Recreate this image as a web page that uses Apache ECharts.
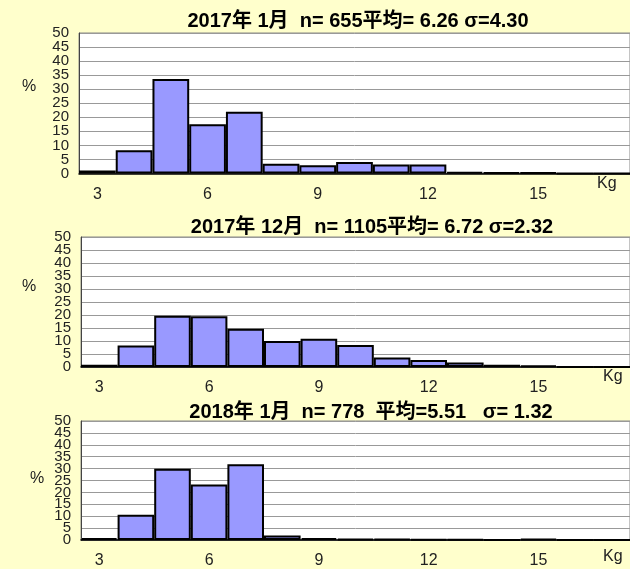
<!DOCTYPE html>
<html>
<head>
<meta charset="utf-8">
<script src="https://cdn.jsdelivr.net/npm/echarts@6/dist/echarts.min.js"></script>
<style>
html,body{margin:0;padding:0;background:#FFFFCC;}
#chart{width:630px;height:569px;}
</style>
</head>
<body>
<div id="chart"></div>
<script>
// Categories (Kg bins)
var categories = ['3','4','5','6','7','8','9','10','11','12','13','14','15','16','17'];
var tickLabels = ['3','6','9','12','15'];
var yTicks = [0,5,10,15,20,25,30,35,40,45,50];

// Series values (%)
var jan2017 = [1.1, 8.3, 33.6, 17.5, 22.0, 3.5, 2.9, 4.1, 3.2, 3.2, 0.5, 0.3, 0.3, 0, 0];
var dec2017 = [0.9, 8.3, 19.7, 19.5, 14.7, 10.0, 10.9, 8.5, 3.7, 2.7, 1.7, 0.9, 0.6, 0, 0];
var jan2018 = [0.8, 10.6, 29.9, 23.3, 31.8, 1.9, 0.8, 0.5, 0.4, 0.3, 0.3, 0.1, 0.5, 0, 0];

var titles = [
  '2017年 1月  n= 655平均= 6.26 σ=4.30',
  '2017年 12月  n= 1105平均= 6.72 σ=2.32',
  '2018年 1月  n= 778  平均=5.51   σ= 1.32'
];
var seriesData = [jan2017, dec2017, jan2018];

var FONT = "'Liberation Sans', Arial, 'Noto Sans CJK JP', sans-serif";
var grids = [
  {left: 79, top: 33, height: 140.5, right: -10},
  {left: 81, top: 237, height: 130, right: -12},
  {left: 81, top: 421, height: 121, right: -12}
];
var titlePos = [{x: 358, y: 11}, {x: 372, y: 217}, {x: 371, y: 402}];
var pctPos = [{x: 30, y: 88}, {x: 30, y: 288}, {x: 38, y: 480}];
var kgPos = [{x: 607, y: 185}, {x: 613, y: 378}, {x: 613, y: 558}];

// Two label layers per panel (even and odd ticks) so tightly packed labels all show
function makeY(i, parity) {
  var shown = yTicks.filter(function (v, k) { return k % 2 === parity; });
  return {
    type: 'value', gridIndex: i, position: 'left', offset: 0,
    min: yTicks[0], max: yTicks[yTicks.length - 1], interval: 5,
    axisLine: {show: parity === 0, lineStyle: {color: '#444', width: 1}},
    axisTick: {show: false},
    axisLabel: {margin: 10, fontSize: 15, fontFamily: FONT, color: '#222',
      hideOverlap: false, showMinLabel: true, showMaxLabel: true,
      formatter: function (v) { return shown.indexOf(v) >= 0 ? String(v) : ''; }},
    splitLine: {show: parity === 0, lineStyle: {color: '#999', width: 1}}
  };
}

var yAxes = [];
grids.forEach(function (g, i) { yAxes.push(makeY(i, 0)); yAxes.push(makeY(i, 1)); });

var option = {
  backgroundColor: '#FFFFCC',
  animation: false,
  title: titles.map(function (t, i) {
    return {
      text: t, left: titlePos[i].x, top: titlePos[i].y, textAlign: 'center', padding: 0,
      textStyle: {fontFamily: FONT, fontSize: 20, fontWeight: 'bold', color: '#000'}
    };
  }),
  grid: grids.map(function (g) {
    return {left: g.left, top: g.top, height: g.height, right: g.right, show: true,
      backgroundColor: '#fff', borderColor: '#888', borderWidth: 1, containLabel: false};
  }),
  xAxis: grids.map(function (g, i) {
    return {
      type: 'category', gridIndex: i, data: categories,
      axisLine: {show: true, lineStyle: {color: '#000', width: 1.5}},
      axisTick: {show: false},
      axisLabel: {
        interval: 0, margin: 13, fontSize: 16, fontFamily: FONT, color: '#222',
        formatter: function (v) { return tickLabels.indexOf(v) >= 0 ? v : ''; }
      },
      splitLine: {show: false}
    };
  }),
  yAxis: yAxes,
  series: seriesData.map(function (d, i) {
    return {
      type: 'bar', xAxisIndex: i, yAxisIndex: i * 2, data: d,
      barCategoryGap: '0%', barGap: '0%',
      itemStyle: {color: '#9999FF', borderColor: '#000', borderWidth: 2}
    };
  }),
  graphic: [].concat(
    pctPos.map(function (p) {
      return {type: 'text', left: p.x - 8, top: p.y - 9,
        style: {text: '%', font: '16px ' + FONT, fill: '#222'}};
    }),
    kgPos.map(function (p) {
      return {type: 'text', left: p.x - 10, top: p.y - 9,
        style: {text: 'Kg', font: '16px ' + FONT, fill: '#222'}};
    })
  )
};

var chart = echarts.init(document.getElementById('chart'));
chart.setOption(option);
</script>
</body>
</html>
